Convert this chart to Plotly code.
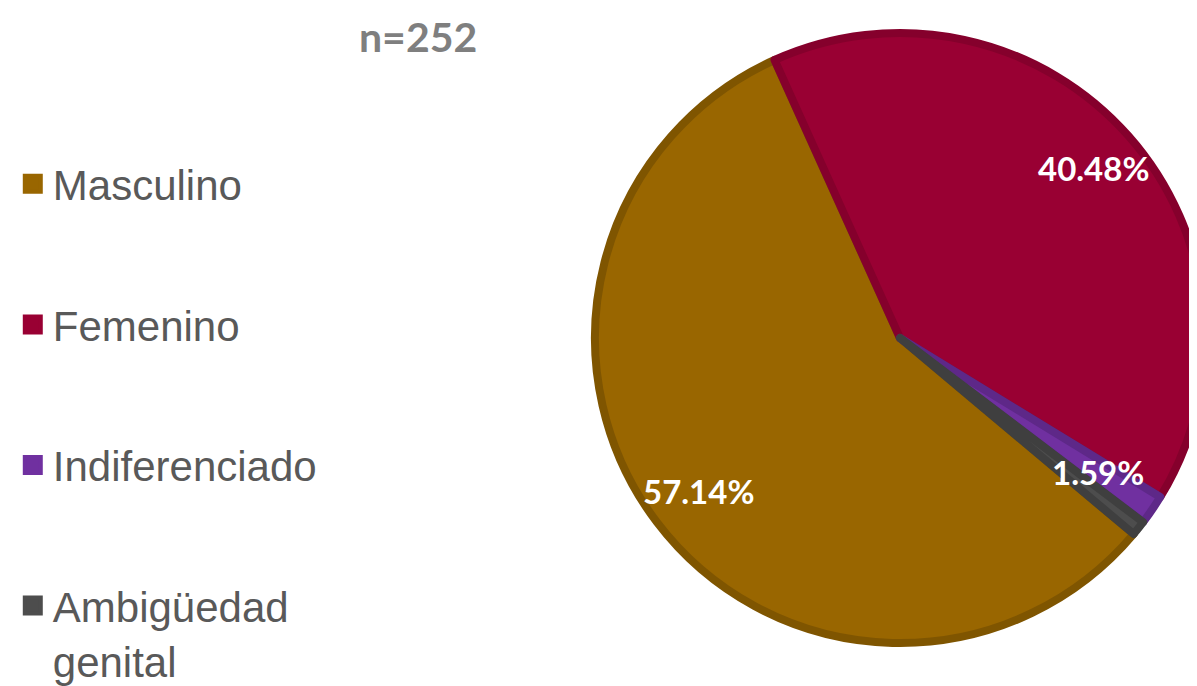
import math
import plotly.graph_objects as go

# data
categorias = ["Masculino", "Femenino", "Indiferenciado", "Ambigüedad<br>genital"]
casos = [144, 102, 4, 2]
mostrar_pct = [True, True, True, False]
titulo = "n=252"

colores = ["#996600", "#990033", "#7030A0", "#4D4D4D"]
bordes = ["#7F5500", "#85002C", "#5E2888", "#3F3F3F"]

W, H = 1197, 686
ROT = 130  # angulo inicial del primer sector (horario desde las 12)

# geometria del pastel (en pixeles) -> dominio en papel
cx, cy, R = 893, 330, 306
dom_x = [(cx - R) / W, min(1.0, (cx + R) / W)]
dom_y = [1 - (cy + R) / H, 1 - (cy - R) / H]

fig = go.Figure()

fig.add_trace(go.Pie(
    labels=categorias,
    values=casos,
    sort=False,
    direction="clockwise",
    rotation=ROT,
    textinfo="none",
    hoverinfo="label+percent",
    showlegend=False,
    marker=dict(colors=colores, line=dict(color=bordes, width=8)),
    domain=dict(x=dom_x, y=dom_y),
))

# entradas de leyenda (una por categoria, para poder separarlas)
for cat, col in zip(categorias, colores):
    fig.add_trace(go.Scatter(
        x=[None], y=[None], mode="markers", name=cat, legendgroup=cat,
        marker=dict(symbol="square", size=16, color=col, line=dict(color=col, width=4)),
    ))

# etiquetas de porcentaje en cada sector
total = sum(casos)
radio_etq = [0.83, 0.84, 0.78, 0.8]
acum = 0
for v, show, rf in zip(casos, mostrar_pct, radio_etq):
    mid = math.radians(ROT + 360 * (acum + v / 2) / total)
    acum += v
    if not show:
        continue
    px = cx + rf * R * math.sin(mid)
    py = cy - rf * R * math.cos(mid)
    fig.add_annotation(
        x=px / W, y=1 - py / H, xref="paper", yref="paper",
        xanchor="center", yanchor="middle",
        text=f"{v / total * 100:.2f}%", showarrow=False,
        font=dict(family="Lato", size=33, color="white", weight="bold"),
    )

# titulo n=252
fig.add_annotation(
    x=410 / W, y=1 - 29 / H, xref="paper", yref="paper",
    xanchor="center", yanchor="middle", showarrow=False, text=titulo,
    font=dict(family="Lato", size=41, color="#7F7F7F", weight="bold"),
)

fig.update_layout(
    width=W, height=H,
    margin=dict(l=0, r=0, t=0, b=0, pad=0, autoexpand=False),
    paper_bgcolor="white", plot_bgcolor="white",
    xaxis=dict(visible=False), yaxis=dict(visible=False),
    legend=dict(x=0.004, xanchor="left", y=1 - 142 / H, yanchor="top",
                font=dict(family="Liberation Sans", size=42, color="#595959"),
                tracegroupgap=83, valign="top", itemsizing="trace",
                bgcolor="rgba(0,0,0,0)"),
)

fig.write_html("out.html")
